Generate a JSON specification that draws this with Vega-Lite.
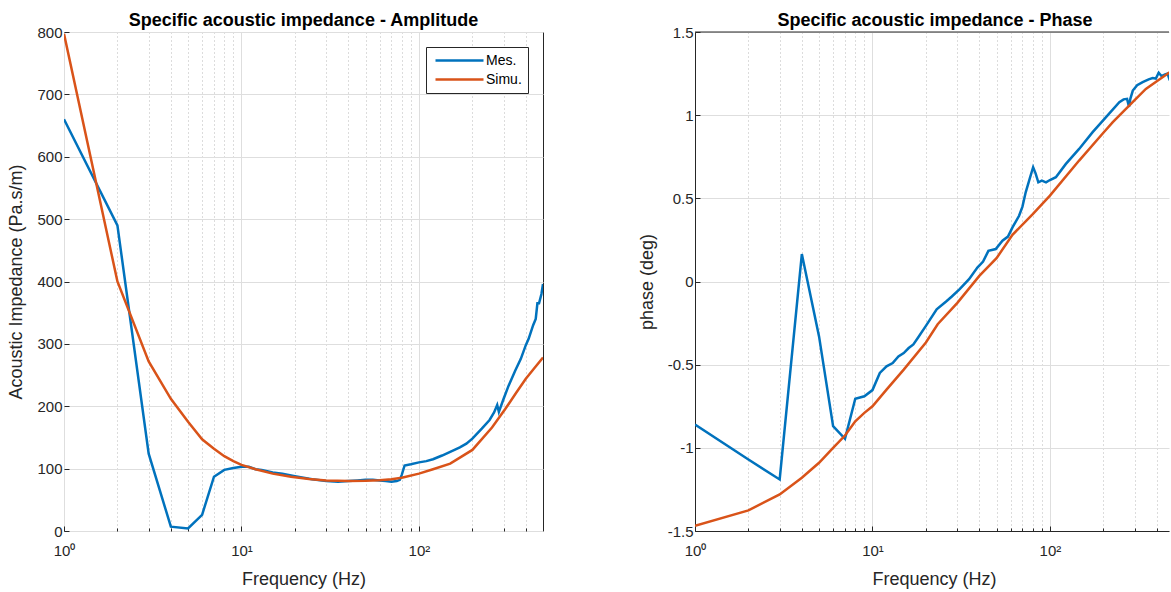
{
  "$schema": "https://vega.github.io/schema/vega-lite/v6.json",
  "padding": {"left": 6, "top": 11, "right": 0, "bottom": 0},
  "background": "white",
  "datasets": {
    "amp": [
      {"f": 1, "v": 660, "s": "Mes."}, {"f": 2, "v": 490, "s": "Mes."}, {"f": 3, "v": 124, "s": "Mes."}, {"f": 4, "v": 7, "s": "Mes."},
      {"f": 5, "v": 4, "s": "Mes."}, {"f": 6, "v": 26, "s": "Mes."}, {"f": 7, "v": 87, "s": "Mes."}, {"f": 8, "v": 98, "s": "Mes."},
      {"f": 9, "v": 101, "s": "Mes."}, {"f": 10, "v": 103, "s": "Mes."}, {"f": 11, "v": 103, "s": "Mes."}, {"f": 12, "v": 99, "s": "Mes."},
      {"f": 13, "v": 98, "s": "Mes."}, {"f": 15, "v": 94, "s": "Mes."}, {"f": 17, "v": 92, "s": "Mes."}, {"f": 20, "v": 88, "s": "Mes."},
      {"f": 25, "v": 83, "s": "Mes."}, {"f": 30, "v": 80, "s": "Mes."}, {"f": 35, "v": 79, "s": "Mes."}, {"f": 40, "v": 80, "s": "Mes."},
      {"f": 45, "v": 81, "s": "Mes."}, {"f": 50, "v": 82, "s": "Mes."}, {"f": 55, "v": 82, "s": "Mes."}, {"f": 60, "v": 81, "s": "Mes."},
      {"f": 65, "v": 80, "s": "Mes."}, {"f": 70, "v": 79, "s": "Mes."}, {"f": 75, "v": 80, "s": "Mes."}, {"f": 78, "v": 82, "s": "Mes."},
      {"f": 80, "v": 90, "s": "Mes."}, {"f": 83, "v": 105, "s": "Mes."}, {"f": 90, "v": 107, "s": "Mes."}, {"f": 100, "v": 110, "s": "Mes."},
      {"f": 110, "v": 112, "s": "Mes."}, {"f": 120, "v": 115, "s": "Mes."}, {"f": 135, "v": 121, "s": "Mes."}, {"f": 150, "v": 127, "s": "Mes."},
      {"f": 170, "v": 134, "s": "Mes."}, {"f": 185, "v": 140, "s": "Mes."}, {"f": 200, "v": 148, "s": "Mes."}, {"f": 226, "v": 164, "s": "Mes."},
      {"f": 250, "v": 178, "s": "Mes."}, {"f": 265, "v": 190, "s": "Mes."}, {"f": 276, "v": 202, "s": "Mes."}, {"f": 282, "v": 191, "s": "Mes."},
      {"f": 300, "v": 212, "s": "Mes."}, {"f": 320, "v": 233, "s": "Mes."}, {"f": 350, "v": 258, "s": "Mes."}, {"f": 375, "v": 276, "s": "Mes."},
      {"f": 400, "v": 298, "s": "Mes."}, {"f": 415, "v": 308, "s": "Mes."}, {"f": 440, "v": 330, "s": "Mes."}, {"f": 455, "v": 340, "s": "Mes."},
      {"f": 465, "v": 365, "s": "Mes."}, {"f": 475, "v": 365, "s": "Mes."}, {"f": 490, "v": 380, "s": "Mes."}, {"f": 500, "v": 396, "s": "Mes."},
      {"f": 1, "v": 797, "s": "Simu."}, {"f": 2, "v": 400, "s": "Simu."}, {"f": 3, "v": 272, "s": "Simu."}, {"f": 4, "v": 212, "s": "Simu."},
      {"f": 5, "v": 175, "s": "Simu."}, {"f": 6, "v": 147, "s": "Simu."}, {"f": 7, "v": 132, "s": "Simu."}, {"f": 8, "v": 120, "s": "Simu."},
      {"f": 9, "v": 112, "s": "Simu."}, {"f": 10, "v": 106, "s": "Simu."}, {"f": 12, "v": 99, "s": "Simu."}, {"f": 15, "v": 92, "s": "Simu."},
      {"f": 19, "v": 87, "s": "Simu."}, {"f": 24, "v": 83.5, "s": "Simu."}, {"f": 30, "v": 81, "s": "Simu."}, {"f": 40, "v": 80, "s": "Simu."},
      {"f": 50, "v": 80.5, "s": "Simu."}, {"f": 60, "v": 81.5, "s": "Simu."}, {"f": 70, "v": 83, "s": "Simu."}, {"f": 80, "v": 85.5, "s": "Simu."},
      {"f": 100, "v": 92, "s": "Simu."}, {"f": 120, "v": 99, "s": "Simu."}, {"f": 150, "v": 108, "s": "Simu."}, {"f": 200, "v": 130, "s": "Simu."},
      {"f": 258, "v": 166, "s": "Simu."}, {"f": 307, "v": 196, "s": "Simu."}, {"f": 350, "v": 220, "s": "Simu."}, {"f": 400, "v": 244, "s": "Simu."},
      {"f": 450, "v": 262, "s": "Simu."}, {"f": 500, "v": 278, "s": "Simu."}
    ],
    "phase": [
      {"f": 1, "v": -0.86, "s": "Mes."}, {"f": 2, "v": -1.07, "s": "Mes."}, {"f": 3, "v": -1.19, "s": "Mes."}, {"f": 4, "v": 0.165, "s": "Mes."},
      {"f": 5, "v": -0.33, "s": "Mes."}, {"f": 6, "v": -0.87, "s": "Mes."}, {"f": 7, "v": -0.946, "s": "Mes."}, {"f": 8, "v": -0.705, "s": "Mes."},
      {"f": 9, "v": -0.69, "s": "Mes."}, {"f": 10, "v": -0.653, "s": "Mes."}, {"f": 11, "v": -0.55, "s": "Mes."}, {"f": 12, "v": -0.51, "s": "Mes."},
      {"f": 13, "v": -0.49, "s": "Mes."}, {"f": 14, "v": -0.45, "s": "Mes."}, {"f": 15, "v": -0.43, "s": "Mes."}, {"f": 16, "v": -0.4, "s": "Mes."},
      {"f": 17, "v": -0.378, "s": "Mes."}, {"f": 18, "v": -0.34, "s": "Mes."}, {"f": 20, "v": -0.267, "s": "Mes."}, {"f": 23, "v": -0.167, "s": "Mes."},
      {"f": 26, "v": -0.12, "s": "Mes."}, {"f": 28, "v": -0.09, "s": "Mes."}, {"f": 31, "v": -0.046, "s": "Mes."}, {"f": 35, "v": 0.014, "s": "Mes."},
      {"f": 39, "v": 0.084, "s": "Mes."}, {"f": 42, "v": 0.12, "s": "Mes."}, {"f": 45, "v": 0.184, "s": "Mes."}, {"f": 49.5, "v": 0.195, "s": "Mes."},
      {"f": 54, "v": 0.245, "s": "Mes."}, {"f": 58, "v": 0.27, "s": "Mes."}, {"f": 61.5, "v": 0.325, "s": "Mes."}, {"f": 67, "v": 0.395, "s": "Mes."},
      {"f": 70, "v": 0.45, "s": "Mes."}, {"f": 73, "v": 0.536, "s": "Mes."}, {"f": 77, "v": 0.62, "s": "Mes."}, {"f": 80.4, "v": 0.687, "s": "Mes."},
      {"f": 83, "v": 0.65, "s": "Mes."}, {"f": 86, "v": 0.596, "s": "Mes."}, {"f": 90, "v": 0.606, "s": "Mes."}, {"f": 95, "v": 0.596, "s": "Mes."},
      {"f": 100, "v": 0.61, "s": "Mes."}, {"f": 108, "v": 0.627, "s": "Mes."}, {"f": 123, "v": 0.707, "s": "Mes."}, {"f": 146, "v": 0.797, "s": "Mes."},
      {"f": 174, "v": 0.898, "s": "Mes."}, {"f": 207, "v": 0.988, "s": "Mes."}, {"f": 246, "v": 1.078, "s": "Mes."}, {"f": 260, "v": 1.095, "s": "Mes."},
      {"f": 272, "v": 1.098, "s": "Mes."}, {"f": 279, "v": 1.05, "s": "Mes."}, {"f": 284, "v": 1.1, "s": "Mes."}, {"f": 293, "v": 1.148, "s": "Mes."},
      {"f": 310, "v": 1.18, "s": "Mes."}, {"f": 333, "v": 1.199, "s": "Mes."}, {"f": 360, "v": 1.215, "s": "Mes."}, {"f": 379, "v": 1.223, "s": "Mes."},
      {"f": 395, "v": 1.22, "s": "Mes."}, {"f": 410, "v": 1.255, "s": "Mes."}, {"f": 425, "v": 1.235, "s": "Mes."}, {"f": 445, "v": 1.245, "s": "Mes."},
      {"f": 460, "v": 1.25, "s": "Mes."}, {"f": 470, "v": 1.22, "s": "Mes."}, {"f": 480, "v": 1.23, "s": "Mes."},
      {"f": 1, "v": -1.468, "s": "Simu."}, {"f": 2, "v": -1.376, "s": "Simu."}, {"f": 3, "v": -1.28, "s": "Simu."}, {"f": 4, "v": -1.18, "s": "Simu."},
      {"f": 5, "v": -1.09, "s": "Simu."}, {"f": 6, "v": -1.0, "s": "Simu."}, {"f": 7, "v": -0.926, "s": "Simu."}, {"f": 8, "v": -0.84, "s": "Simu."},
      {"f": 9, "v": -0.79, "s": "Simu."}, {"f": 10, "v": -0.75, "s": "Simu."}, {"f": 12, "v": -0.65, "s": "Simu."}, {"f": 15, "v": -0.53, "s": "Simu."},
      {"f": 20, "v": -0.367, "s": "Simu."}, {"f": 23.3, "v": -0.257, "s": "Simu."}, {"f": 30, "v": -0.13, "s": "Simu."}, {"f": 40, "v": 0.034, "s": "Simu."},
      {"f": 50, "v": 0.14, "s": "Simu."}, {"f": 61.5, "v": 0.281, "s": "Simu."}, {"f": 80, "v": 0.405, "s": "Simu."}, {"f": 100, "v": 0.516, "s": "Simu."},
      {"f": 146, "v": 0.727, "s": "Simu."}, {"f": 200, "v": 0.894, "s": "Simu."}, {"f": 226, "v": 0.958, "s": "Simu."}, {"f": 300, "v": 1.09, "s": "Simu."},
      {"f": 347, "v": 1.158, "s": "Simu."}, {"f": 400, "v": 1.204, "s": "Simu."}, {"f": 479, "v": 1.262, "s": "Simu."}, {"f": 500, "v": 1.27, "s": "Simu."}
    ]
  },
  "spacing": 152,
  "bounds": "flush",
  "resolve": {
    "scale": {"color": "independent", "x": "independent", "y": "independent"},
    "legend": {"color": "independent"}
  },
  "hconcat": [
    {
      "width": 479,
      "height": 499,
      "title": {"text": "Specific acoustic impedance - Amplitude", "frame": "group", "offset": -19, "baseline": "alphabetic"},
      "data": {"name": "amp"},
      "mark": {"type": "line", "strokeWidth": 2.5, "clip": true},
      "encoding": {
        "x": {
          "field": "f", "type": "quantitative",
          "scale": {"type": "log", "domain": [1, 500], "nice": false},
          "axis": {
            "title": "Frequency (Hz)",
            "values": [1, 2, 3, 4, 5, 6, 7, 8, 9, 10, 20, 30, 40, 50, 60, 70, 80, 90, 100, 200, 300, 400],
            "labelExpr": "datum.value === 1 ? '10⁰' : datum.value === 10 ? '10¹' : datum.value === 100 ? '10²' : ''",
            "labelOverlap": false, "labelFlush": false, "labelPadding": 17,
            "titleY": 53, "titleBaseline": "alphabetic",
            "gridDash": {"condition": {"test": "datum.value === 1 || datum.value === 10 || datum.value === 100", "value": []}, "value": [1, 3]},
            "gridColor": {"condition": {"test": "datum.value === 1 || datum.value === 10 || datum.value === 100", "value": "#dedede"}, "value": "#b8b8b8"},
            "ticks": true, "tickColor": "#262626",
            "tickSize": {"condition": {"test": "datum.value === 1 || datum.value === 10 || datum.value === 100", "value": -5}, "value": -3}
          }
        },
        "y": {
          "field": "v", "type": "quantitative",
          "scale": {"domain": [0, 800], "nice": false},
          "axis": {
            "title": "Acoustic Impedance (Pa.s/m)",
            "values": [0, 100, 200, 300, 400, 500, 600, 700, 800],
            "labelFlush": false, "labelPadding": 7,
            "titleX": -39, "titleBaseline": "bottom",
            "ticks": true, "tickSize": -5, "tickColor": "#262626"
          }
        },
        "color": {
          "field": "s", "type": "nominal",
          "scale": {"domain": ["Mes.", "Simu."], "range": ["#0072BD", "#D95319"]},
          "legend": {
            "title": null, "orient": "top-right", "offset": 15,
            "fillColor": "white", "strokeColor": "#262626", "padding": 6,
            "labelFont": "Liberation Sans", "labelFontSize": 14, "labelColor": "#000000", "labelOffset": 19,
            "symbolType": "M-4,0H4", "symbolSize": 144, "symbolOffset": 20, "symbolStrokeWidth": 2.5, "rowPadding": 4
          }
        }
      }
    },
    {
      "width": 474,
      "height": 499,
      "view": {"stroke": null},
      "title": {"text": "Specific acoustic impedance - Phase", "frame": "group", "offset": -19, "baseline": "alphabetic", "dx": 3},
      "layer": [
        {
          "data": {"name": "phase"},
          "mark": {"type": "line", "strokeWidth": 2.5, "clip": true},
          "encoding": {
            "x": {
              "field": "f", "type": "quantitative",
              "scale": {"type": "log", "domain": [1, 468.6], "nice": false},
              "axis": {
                "title": "Frequency (Hz)",
                "values": [1, 2, 3, 4, 5, 6, 7, 8, 9, 10, 20, 30, 40, 50, 60, 70, 80, 90, 100, 200, 300, 400],
                "labelExpr": "datum.value === 1 ? '10⁰' : datum.value === 10 ? '10¹' : datum.value === 100 ? '10²' : ''",
                "labelOverlap": false, "labelFlush": false, "labelPadding": 17,
                "titleY": 53, "titleBaseline": "alphabetic", "titleX": 239,
                "domain": true, "domainColor": "#262626",
                "gridDash": {"condition": {"test": "datum.value === 1 || datum.value === 10 || datum.value === 100", "value": []}, "value": [1, 3]},
                "gridColor": {"condition": {"test": "datum.value === 1 || datum.value === 10 || datum.value === 100", "value": "#dedede"}, "value": "#b8b8b8"},
                "ticks": true, "tickColor": "#262626",
                "tickSize": {"condition": {"test": "datum.value === 1 || datum.value === 10 || datum.value === 100", "value": -5}, "value": -3}
              }
            },
            "y": {
              "field": "v", "type": "quantitative",
              "scale": {"domain": [-1.5, 1.5], "nice": false},
              "axis": {
                "title": "phase (deg)",
                "values": [-1.5, -1, -0.5, 0, 0.5, 1, 1.5],
                "labelExpr": "'' + datum.value",
                "labelFlush": false, "labelPadding": 7,
                "titleX": -39, "titleBaseline": "bottom",
                "domain": true, "domainColor": "#262626",
                "ticks": true, "tickSize": -5, "tickColor": "#262626"
              }
            },
            "color": {
              "field": "s", "type": "nominal",
              "scale": {"domain": ["Mes.", "Simu."], "range": ["#0072BD", "#D95319"]},
              "legend": null
            }
          }
        },
        {
          "data": {"values": [{}]},
          "mark": {"type": "rule", "color": "#262626", "strokeWidth": 1},
          "encoding": {"y": {"datum": 1.5, "type": "quantitative"}}
        }
      ]
    }
  ],
  "config": {
    "font": "Liberation Sans",
    "view": {"stroke": "#262626", "strokeWidth": 1},
    "axis": {
      "labelFont": "Liberation Sans", "labelFontSize": 15, "labelColor": "#262626",
      "titleFont": "Liberation Sans", "titleFontSize": 18, "titleColor": "#262626", "titleFontWeight": "normal",
      "gridColor": "#dedede", "gridWidth": 1, "domain": false
    },
    "title": {"font": "Liberation Sans", "fontSize": 18, "fontWeight": "bold", "color": "#000000"}
  }
}
